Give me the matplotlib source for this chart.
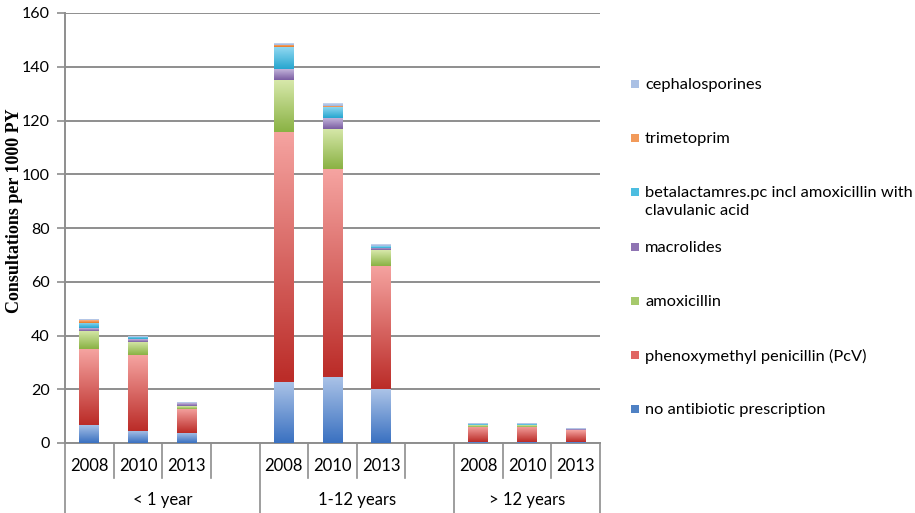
import numpy as np
import matplotlib
matplotlib.use('Agg')
from matplotlib import pyplot as plt
from matplotlib.colors import LinearSegmentedColormap
from matplotlib.lines import Line2D
from matplotlib.patches import Rectangle

# categories
years = ['2008', '2010', '2013', '2008', '2010', '2013', '2008', '2010', '2013']
groups = ['< 1 year', '1-12 years', '> 12 years']

# series values (consultations per 1000 PY), stacked bottom to top
no_ab = [6.7, 4.6, 3.8, 22.7, 24.7, 20.0, 0.5, 0.5, 0.5]
pcv = [28.2, 28.1, 9.0, 93.1, 77.3, 45.9, 5.6, 5.6, 4.3]
amox = [6.9, 4.9, 1.0, 19.3, 15.0, 5.9, 0.6, 0.6, 0.2]
macro = [0.9, 1.0, 1.0, 3.9, 3.9, 0.8, 0.1, 0.1, 0.1]
beta = [2.1, 1.0, 0.2, 8.2, 4.2, 0.7, 0.1, 0.1, 0.0]
trim = [1.1, 0.0, 0.0, 0.8, 0.2, 0.1, 0.0, 0.0, 0.0]
ceph = [0.3, 0.3, 0.2, 0.7, 0.8, 0.6, 0.1, 0.1, 0.1]

names = ['no antibiotic prescription', 'phenoxymethyl penicillin (PcV)',
         'amoxicillin', 'macrolides',
         'betalactamres.pc incl amoxicillin with\nclavulanic acid',
         'trimetoprim', 'cephalosporines']
series = [no_ab, pcv, amox, macro, beta, trim, ceph]

# (top colour, bottom colour, legend colour)
colors = [('#abc3e7', '#3a71c1', '#4f81c4'),
          ('#f5a3a0', '#bb2c28', '#e06663'),
          ('#d7e8aa', '#8ab244', '#a6c96c'),
          ('#c3b3da', '#7a5ea2', '#8f74b3'),
          ('#95daf2', '#27a6d0', '#4cbde0'),
          ('#f9b78b', '#e8761f', '#f29a5a'),
          ('#ccd9ef', '#9cb4de', '#aac0e4')]

slots = [0, 1, 2, 4, 5, 6, 8, 9, 10]
bounds = [-0.5, 3.5, 7.5, 10.5]
width = 0.41
grid_c = '#8e8e8e'

plt.rcParams['font.family'] = ['Lato', 'DejaVu Sans']

fig = plt.figure(figsize=(9.15, 5.13), dpi=100)
ax = fig.add_axes([65 / 915, 1 - 443 / 513, 535 / 915, 430 / 513])

grad = np.linspace(0, 1, 64).reshape(-1, 1)
bottom = np.zeros(len(slots))
for vals, (ctop, cbot, _) in zip(series, colors):
    cmap = LinearSegmentedColormap.from_list('g', [cbot, ctop])
    for x, b, v in zip(slots, bottom, vals):
        if v <= 0:
            continue
        ax.imshow(grad, extent=[x - width / 2, x + width / 2, b, b + v],
                  origin='lower', aspect='auto', cmap=cmap, zorder=3,
                  interpolation='bilinear')
    bottom += np.array(vals)

ax.set_xlim(-0.5, 10.5)
ax.set_ylim(0, 160)
ax.set_yticks(np.arange(0, 161, 20))
ax.yaxis.grid(True, color=grid_c, linewidth=1.4)
ax.set_axisbelow(True)
for s in ['top', 'right']:
    ax.spines[s].set_visible(False)
for s in ['left', 'bottom']:
    ax.spines[s].set_color(grid_c)
    ax.spines[s].set_linewidth(1.4)
ax.tick_params(axis='y', length=6, width=1.2, color=grid_c, labelsize=11.5,
               pad=5)
ax.set_xticks([])
ax.set_ylabel('Consultations per 1000 PY', family='Liberation Serif',
              fontweight='bold', fontsize=13)
ax.yaxis.set_label_coords((23 - 65) / 535, (443 - 211) / 430)

# category axis: year row and group row
trans = ax.get_xaxis_transform()
short_y = -(478 - 443) / 430
long_y = -(513 - 443) / 430
for k in range(12):
    xb = k - 0.5
    yend = long_y if xb in bounds else short_y
    ax.add_line(Line2D([xb, xb], [0, yend], transform=trans, color=grid_c,
                       linewidth=1.2, clip_on=False))
for x, yr in zip(slots, years):
    ax.text(x, -(466 - 443) / 430, yr, transform=trans, ha='center',
            va='center', fontsize=12)
for i, g in enumerate(groups):
    xc = (bounds[i] + bounds[i + 1]) / 2
    ax.text(xc, -(500 - 443) / 430, g, transform=trans, ha='center',
            va='center', fontsize=12)

# legend, top entry first
for i, (name, (_, _, lc)) in enumerate(zip(names[::-1], colors[::-1])):
    yc = 84 + i * 54.2
    fig.patches.append(Rectangle((631 / 915, 1 - (yc + 4) / 513), 8 / 915,
                                 8 / 513, transform=fig.transFigure,
                                 facecolor=lc, edgecolor='none'))
    fig.text(645 / 915, 1 - (yc - 6) / 513, name, ha='left', va='top',
             fontsize=11.8, linespacing=1.35)

fig.savefig('out.png', dpi=100)
